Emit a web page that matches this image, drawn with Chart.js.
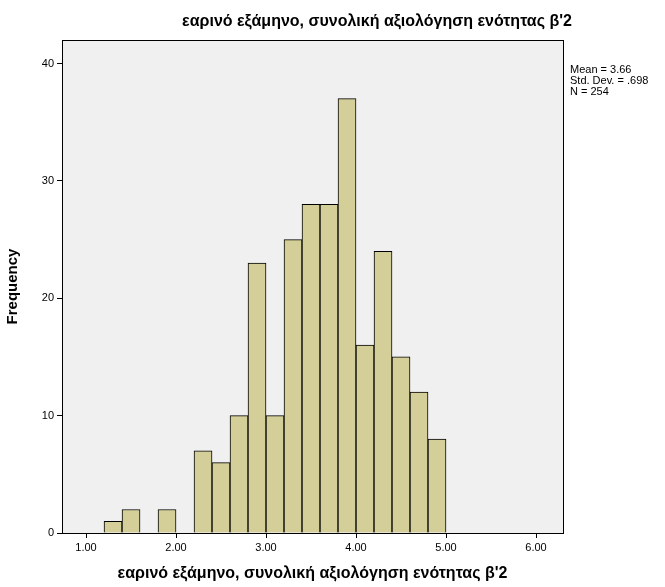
<!DOCTYPE html>
<html><head><meta charset="utf-8">
<script src="https://cdn.jsdelivr.net/npm/chart.js@4"></script>
<style>body{margin:0;background:#fff}#wrap{width:665px;height:587px}</style>
</head><body><div id="wrap"><canvas id="c"></canvas></div>
<script>
// Histogram bins (centre of each 0.2 wide bin) and counts
const binCenters = [1.3, 1.5, 1.7, 1.9, 2.1, 2.3, 2.5, 2.7, 2.9, 3.1, 3.3, 3.5, 3.7, 3.9, 4.1, 4.3, 4.5, 4.7, 4.9];
const counts = [1, 2, 0, 2, 0, 7, 6, 10, 23, 10, 25, 28, 28, 37, 16, 24, 15, 12, 8];
const statLines = ['Mean = 3.66', 'Std. Dev. = .698', 'N = 254'];
const titleText = 'εαρινό εξάμηνο, συνολική αξιολόγηση ενότητας β\'2';

const frame = {
    id: 'frame',
    beforeDraw(chart) {
        const a = chart.chartArea, ctx = chart.ctx;
        ctx.save();
        ctx.fillStyle = '#f0f0f0';
        ctx.fillRect(a.left, a.top, a.right - a.left, a.bottom - a.top);
        ctx.restore();
    },
    afterDraw(chart) {
        const a = chart.chartArea, ctx = chart.ctx;
        ctx.save();
        ctx.strokeStyle = '#000';
        ctx.lineWidth = 1;
        ctx.strokeRect(a.left + 0.5, a.top + 0.5, a.right - a.left, a.bottom - a.top);
        ctx.fillStyle = '#000';
        ctx.font = 'bold 16px "Liberation Sans", Arial';
        ctx.textAlign = 'center';
        ctx.fillText(titleText, 377, 26);
        ctx.font = '11px "Liberation Sans", Arial';
        ctx.textAlign = 'left';
        statLines.forEach((t, i) => ctx.fillText(t, 570, 73 + i * 11));
        ctx.restore();
    }
};

new Chart(document.getElementById('c'), {
    type: 'bar',
    data: {
        datasets: [{
            data: binCenters.map((x, i) => ({ x, y: counts[i] })),
            backgroundColor: '#d4cf99',
            borderColor: '#000',
            borderWidth: 1,
            barPercentage: 1,
            categoryPercentage: 1
        }]
    },
    options: {
        responsive: true,
        maintainAspectRatio: false,
        animation: false,
        layout: { padding: { top: 40, right: 102, left: 0, bottom: 0 } },
        plugins: { legend: { display: false }, tooltip: { enabled: false } },
        scales: {
            x: {
                type: 'linear', min: 0.733, max: 6.3, offset: false,
                afterBuildTicks: s => { s.ticks = [1, 2, 3, 4, 5, 6].map(v => ({ value: v })); },
                afterFit: s => { s.height = 54; },
                grid: { drawOnChartArea: false, color: '#000', tickLength: 5, offset: false },
                border: { color: '#000' },
                ticks: { color: '#000', font: { size: 11, family: 'Liberation Sans' }, callback: v => v.toFixed(2) },
                title: { display: true, text: titleText, color: '#000', font: { size: 16, weight: 'bold', family: 'Liberation Sans' }, padding: { top: 8 } }
            },
            y: {
                min: 0, max: 42,
                afterBuildTicks: s => { s.ticks = [0, 10, 20, 30, 40].map(v => ({ value: v })); },
                afterFit: s => { s.width = 62; },
                grid: { drawOnChartArea: false, color: '#000', tickLength: 5 },
                border: { color: '#000' },
                ticks: { color: '#000', font: { size: 11, family: 'Liberation Sans' } },
                title: { display: true, text: 'Frequency', color: '#000', font: { size: 15, weight: 'bold', family: 'Liberation Sans' } }
            }
        }
    },
    plugins: [frame]
});
</script></body></html>
